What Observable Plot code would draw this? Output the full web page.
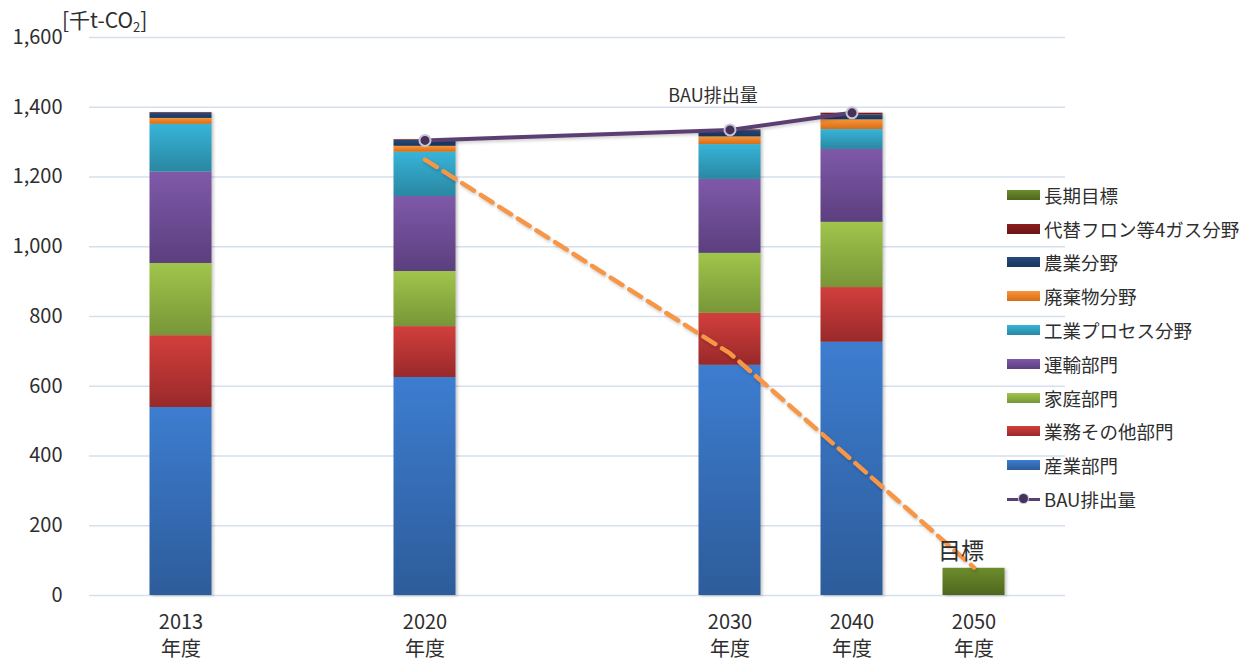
<!DOCTYPE html>
<html>
<head>
<meta charset="utf-8">
<script src="https://cdn.jsdelivr.net/npm/d3@7"></script>
<script src="https://cdn.jsdelivr.net/npm/@observablehq/plot@0.6"></script>
<style>
  html, body { margin: 0; padding: 0; background: #fff; }
  #wrap { position: relative; width: 1247px; height: 664px; font-family: "Noto Sans CJK JP", "Noto Sans", sans-serif; color: #2e2e2e; }
  #unit { position: absolute; left: 62px; top: 9px; font-size: 21px; line-height: 1; }
  #unit sub { font-size: 13px; vertical-align: -4px; line-height: 0; }
  #legend { position: absolute; left: 1007px; top: 178px; font-size: 18.5px; }
  .row { height: 33.8px; display: flex; align-items: center; white-space: nowrap; }
  .sw { width: 33px; height: 10px; margin-right: 4px; }
  .bau { width: 33px; height: 10px; margin-right: 4px; position: relative; }
  .bau .ln { position: absolute; left: 0; right: 0; top: 3.5px; height: 3px; background: #5b3f73; }
  .bau .pt { position: absolute; left: 12px; top: 0px; width: 9px; height: 9px; border-radius: 50%; background: #45305e; box-shadow: 0 0 0 1px #c9c4d2; }
</style>
</head>
<body>
<div id="wrap"></div>
<script>
// ---- data ----
const slots = ["s0", "2013", "s2", "s3", "s4", "2020", "s6", "s7", "s8", "s9", "2030", "s11", "2040", "s13", "2050", "s15"];
const categories = ["2013", "2020", "2030", "2040", "2050"];
const barYears = ["2013", "2020", "2030", "2040"];
const seriesNames = ["産業部門", "業務その他部門", "家庭部門", "運輸部門", "工業プロセス分野", "廃棄物分野", "農業分野", "代替フロン等4ガス分野"];
const sangyo   = [539, 625, 660, 726];
const gyomu    = [206, 146, 149, 157];
const katei    = [207, 158, 172, 187];
const unyu     = [262, 215, 212, 209];
const kogyoPr  = [137, 127, 100, 57];
const haikibutsu = [17, 17, 22, 28];
const nogyo    = [15, 17, 18, 14];
const daitai   = [2, 2, 2, 5];
const targetName = "長期目標";
const targetYears = ["2050"];
const targetValues = [78];
const bauName = "BAU排出量";
const bauYears = ["2020", "2030", "2040"];
const bauValues = [1305, 1335, 1384];
const pathYears = ["2020", "2030", "2040", "2050"];
const pathValues = [1250, 694, 388, 80];
const yTicks = [0, 200, 400, 600, 800, 1000, 1200, 1400, 1600];

// gradient colours (top, bottom) per series
const seriesGrad = [
  ["#3d7dd0", "#2d5c9a"],
  ["#d23f3c", "#99292a"],
  ["#a0c54b", "#789638"],
  ["#7f59a9", "#5b3f7e"],
  ["#37b4d8", "#2a87a2"],
  ["#f8953a", "#d66d14"],
  ["#244b7c", "#1a365c"],
  ["#8e1e1e", "#691414"]
];
const targetGrad = ["#6d8c2c", "#4d671d"];

const seriesValues = [sangyo, gyomu, katei, unyu, kogyoPr, haikibutsu, nogyo, daitai];
const rows = [];
barYears.forEach((yr, j) => {
  seriesValues.forEach((arr, i) => rows.push({cat: yr, series: seriesNames[i], value: arr[j], fill: `url(#g${i})`}));
});
targetYears.forEach((yr, j) => rows.push({cat: yr, series: targetName, value: targetValues[j], fill: "url(#gt)"}));
const bau = bauYears.map((c, i) => ({cat: c, value: bauValues[i]}));
const path = pathYears.map((c, i) => ({cat: c, value: pathValues[i]}));

const textColor = "#2e2e2e";
const font = `"Noto Sans CJK JP", "Noto Sans", sans-serif`;

const chart = Plot.plot({
  width: 1247,
  height: 664,
  marginLeft: 89,
  marginRight: 182,
  marginTop: 37,
  marginBottom: 69,
  style: {fontFamily: font, color: textColor, background: "transparent"},
  x: {type: "band", domain: slots, padding: 0},
  y: {domain: [0, 1600]},
  color: {type: "identity"},
  marks: [
    Plot.gridY({ticks: yTicks, stroke: "#d5dfed", strokeOpacity: 1, strokeWidth: 1.5}),
    Plot.axisY({ticks: yTicks, tickSize: 0, tickPadding: 27, tickFormat: d3.format(","), fontSize: 20, label: null, fill: textColor}),
    Plot.axisX({ticks: categories, tickSize: 0, tickPadding: 14, fontSize: 20, lineHeight: 1.35, tickFormat: d => d + "\n年度", label: null, fill: textColor}),
    Plot.barY(rows, {x: "cat", y: "value", fill: "fill", insetLeft: -0.5, insetRight: -0.5}),
    Plot.line(path, {x: "cat", y: "value", stroke: "#f79646", strokeWidth: 4.5, strokeDasharray: "14,8"}),
    Plot.line(bau, {x: "cat", y: "value", stroke: "#5b3f73", strokeWidth: 4}),
    Plot.dot(bau, {x: "cat", y: "value", r: 5.5, fill: "#45305e", stroke: "#c9c4d2", strokeWidth: 2}),
    Plot.text([{cat: "2030", value: bauValues[1], t: bauName}], {x: "cat", y: "value", text: "t", dx: -17, dy: -34, fontSize: 18, fill: textColor}),
    Plot.text([{cat: "2050", value: targetValues[0], t: "目標"}], {x: "cat", y: "value", text: "t", dx: -13, dy: -17, fontSize: 23, fill: textColor})
  ]
});

// gradient definitions
const svgNS = "http://www.w3.org/2000/svg";
const defs = document.createElementNS(svgNS, "defs");
const addGrad = (id, [top, bottom]) => {
  const g = document.createElementNS(svgNS, "linearGradient");
  g.setAttribute("id", id);
  g.setAttribute("x1", "0"); g.setAttribute("y1", "0"); g.setAttribute("x2", "0"); g.setAttribute("y2", "1");
  [[0, top], [1, bottom]].forEach(([o, c]) => {
    const s = document.createElementNS(svgNS, "stop");
    s.setAttribute("offset", o); s.setAttribute("stop-color", c);
    g.appendChild(s);
  });
  defs.appendChild(g);
};
seriesGrad.forEach((c, i) => addGrad(`g${i}`, c));
addGrad("gt", targetGrad);
chart.insertBefore(defs, chart.firstChild);
d3.select(chart).selectAll('g[aria-label="bar"]').style("filter", "drop-shadow(2px 1px 1.5px rgba(0,0,0,0.22))");
d3.select(chart).selectAll('g[aria-label="line"]').style("filter", "drop-shadow(1px 2px 1.5px rgba(0,0,0,0.18))");

const wrap = document.getElementById("wrap");
wrap.appendChild(chart);
chart.style.position = "absolute";
chart.style.left = "0";
chart.style.top = "0";

// unit label
const unit = document.createElement("div");
unit.id = "unit";
unit.innerHTML = "[千t-CO<sub>2</sub>]";
wrap.appendChild(unit);

// legend (top to bottom)
const legend = document.createElement("div");
legend.id = "legend";
const legendItems = [{name: targetName, grad: targetGrad}].concat(
  seriesNames.map((n, i) => ({name: n, grad: seriesGrad[i]})).reverse()
);
legendItems.forEach(it => {
  const r = document.createElement("div");
  r.className = "row";
  r.innerHTML = `<div class="sw" style="background:linear-gradient(${it.grad[0]},${it.grad[1]})"></div><span>${it.name}</span>`;
  legend.appendChild(r);
});
const br = document.createElement("div");
br.className = "row";
br.innerHTML = `<div class="bau"><div class="ln"></div><div class="pt"></div></div><span>${bauName}</span>`;
legend.appendChild(br);
wrap.appendChild(legend);
</script>
</body>
</html>
